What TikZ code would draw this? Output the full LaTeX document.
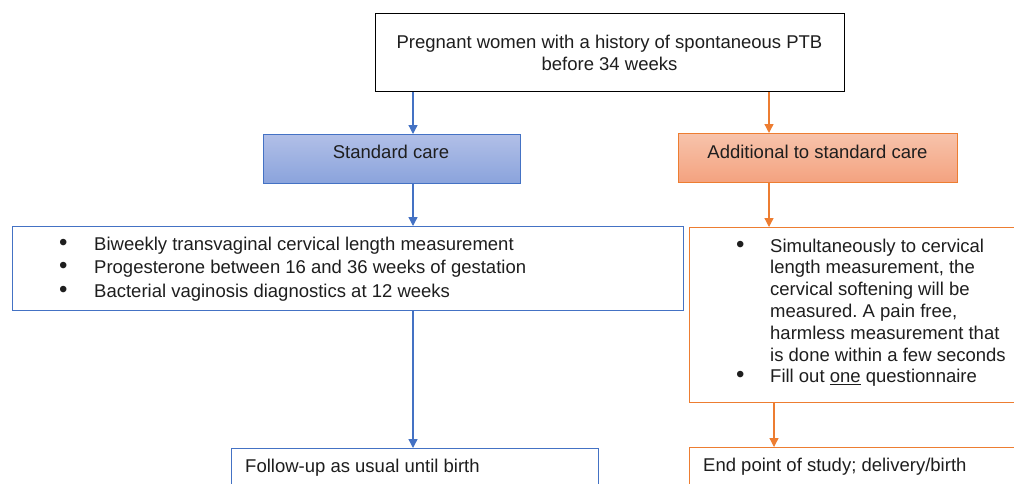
\documentclass[tikz,border=0pt]{standalone}
\usepackage{fontspec}
\setmainfont{Liberation Sans}
\usetikzlibrary{arrows.meta}
\frenchspacing
\definecolor{bline}{HTML}{4472C4}
\definecolor{oline}{HTML}{ED7D31}
\definecolor{btop}{HTML}{B1BFE7}
\definecolor{bbot}{HTML}{8AA3DC}
\definecolor{otop}{HTML}{F7C3AB}
\definecolor{obot}{HTML}{F4A27F}
\definecolor{txt}{HTML}{1E1E1E}
\newcommand{\bigbul}{{\fontsize{24}{20}\selectfont\textbullet}}
\tikzset{
  boxb/.style={draw=bline, line width=1.3pt, fill=white, inner sep=0pt, anchor=north west},
  boxo/.style={draw=oline, line width=1.3pt, fill=white, inner sep=0pt, anchor=north west},
  boxk/.style={draw=black, line width=1.4pt, fill=white, inner sep=0pt, anchor=north west},
  gradb/.style={boxb, top color=btop, bottom color=bbot},
  grado/.style={boxo, top color=otop, bottom color=obot},
  barrow/.style={draw=bline, line width=1.3pt, -{Triangle[width=9pt,length=9pt]}},
  oarrow/.style={draw=oline, line width=1.3pt, -{Triangle[width=9pt,length=9pt]}},
  lbl/.style={inner sep=0pt, text=txt, font=\fontsize{18.5}{22}\selectfont},
}
\begin{document}
\begin{tikzpicture}[x=1pt,y=-1pt]
\useasboundingbox (0,0) rectangle (1014,483);
\clip (0,0) rectangle (1014,483);
% boxes
\node[boxk, minimum width=469pt, minimum height=78pt] (top) at (375,13) {};
\node[gradb, minimum width=257pt, minimum height=49pt] (std) at (263,134) {};
\node[grado, minimum width=279pt, minimum height=49pt] (add) at (678,133) {};
\node[boxb, minimum width=671pt, minimum height=84pt] (lst) at (12,226) {};
\node[boxo, minimum width=345pt, minimum height=175pt] (rst) at (689,227) {};
\node[boxb, minimum width=367pt, minimum height=60pt] (fol) at (231,448) {};
\node[boxo, minimum width=345pt, minimum height=60pt] (end) at (689,447) {};
% texts
\node[lbl, anchor=base] (toptxt) at (609.5,48.5) {\begin{tabular}[t]{@{}c@{}}Pregnant women with a history of spontaneous PTB\\ before 34 weeks\end{tabular}};
\node[lbl, anchor=base] (stdtxt) at (391,158.5) {Standard care};
\node[lbl, anchor=base] (addtxt) at (817.5,158.5) {Additional to standard care};
\node[lbl, anchor=base west, font=\fontsize{18.5}{23.5}\selectfont] (lsttxt) at (58.8,250) {\begin{tabular}[t]{@{}p{35.2pt}@{}l@{}}
\bigbul & Biweekly transvaginal cervical length measurement\\
\bigbul & Progesterone between 16 and 36 weeks of gestation\\
\bigbul & Bacterial vaginosis diagnostics at 12 weeks
\end{tabular}};
\node[lbl, anchor=base west, font=\fontsize{18.5}{21.8}\selectfont] (rsttxt) at (735.8,252) {\begin{tabular}[t]{@{}p{34.2pt}@{}l@{}}
\bigbul & Simultaneously to cervical\\
 & length measurement, the\\
 & cervical softening will be\\
 & measured. A pain free,\\
 & harmless measurement that\\
 & is done within a few seconds\\
\bigbul & Fill out \underline{one} questionnaire
\end{tabular}};
\node[lbl, anchor=base west] (foltxt) at (245,472.5) {Follow-up as usual until birth};
\node[lbl, anchor=base west] (endtxt) at (703,471.5) {End point of study; delivery/birth};
% connectors
\coordinate (bx) at (413,0);
\coordinate (ox) at (769,0);
\coordinate (ox2) at (774,0);
\draw[barrow] (top.south -| bx) -- (std.north -| bx);
\draw[barrow] (std.south -| bx) -- (lst.north -| bx);
\draw[barrow] (lst.south -| bx) -- (fol.north -| bx);
\draw[oarrow] (top.south -| ox) -- (add.north -| ox);
\draw[oarrow] (add.south -| ox) -- (rst.north -| ox);
\draw[oarrow] (rst.south -| ox2) -- (end.north -| ox2);
\end{tikzpicture}
\end{document}
